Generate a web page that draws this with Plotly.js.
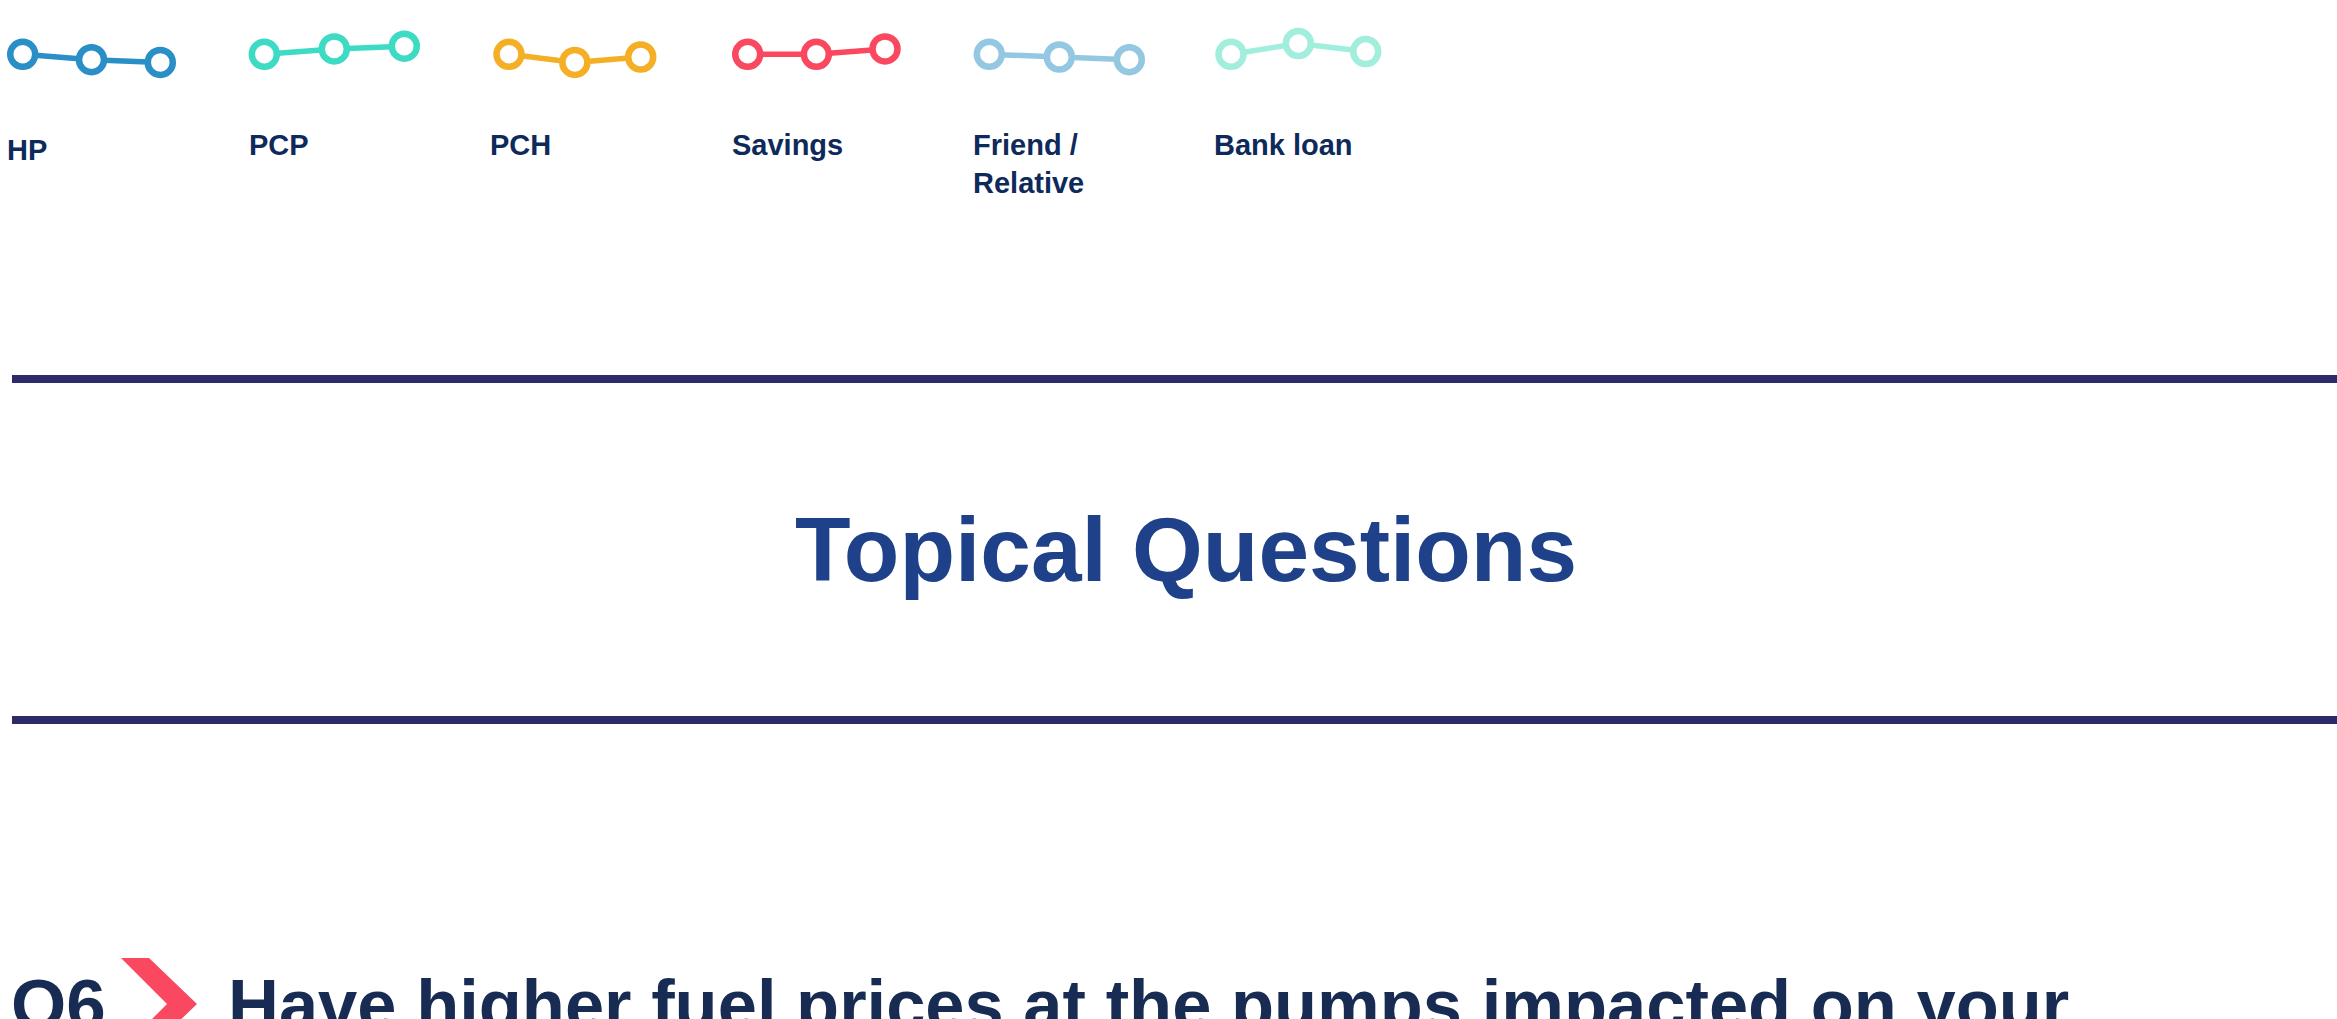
<!DOCTYPE html>
<html>
<head>
<meta charset="utf-8">
<script src="https://cdn.plot.ly/plotly-3.0.1.min.js"></script>
<style>
  html, body { margin: 0; padding: 0; background: #ffffff; }
  #chart { width: 2337px; height: 1019px; }
</style>
</head>
<body>
<div id="chart"></div>
<script>
// ---- Data ----
const periods = ['T1', 'T2', 'T3'];
const seriesNames = ['HP', 'PCP', 'PCH', 'Savings', 'Friend /<br>Relative', 'Bank loan'];
const hp = [0, -2, -3];
const pcp = [0, 2, 3];
const pch = [0, -3, -1];
const savings = [0, 0, 2];
const friendRelative = [0, -1, -2];
const bankLoan = [0, 4, 1];
const sectionTitle = 'Topical Questions';
const questionNumber = 'Q6';
const questionText = 'Have higher fuel prices at the pumps impacted on your';

// ---- Styling / layout ----
const W = 2337, H = 1019;
const px = v => v / W;
const py = v => 1 - v / H;
const FONT = '"Liberation Sans", Arial, Helvetica, sans-serif';
const colors = ['#2a8fc7', '#3ddbc3', '#f5af26', '#f9485f', '#94c8e2', '#a1eedd'];
const values = [hp, pcp, pch, savings, friendRelative, bankLoan];
// first / last marker pixel columns of each mini chart
const spans = [[22.7, 160.3], [264.3, 404.3], [509, 640.7], [747.7, 885], [989.3, 1129.3], [1231, 1365.7]];
const labelLeft = [5, 247, 488, 730, 971, 1212];
const labelMid = [150, 145, 145, 145, 164, 145];

const traces = [];
const layout = {
  width: W, height: H,
  margin: {l: 0, r: 0, t: 0, b: 0},
  paper_bgcolor: '#ffffff',
  plot_bgcolor: 'rgba(0,0,0,0)',
  showlegend: false,
  title: {
    text: sectionTitle,
    x: px(1186), xref: 'paper', xanchor: 'center',
    y: py(549), yref: 'paper', yanchor: 'middle',
    font: {family: FONT, size: 91, weight: 700, color: '#1f4189'}
  },
  annotations: [],
  shapes: []
};

values.forEach((vals, i) => {
  const n = i === 0 ? '' : String(i + 1);
  traces.push({
    type: 'scatter', mode: 'lines+markers',
    x: periods, y: vals, name: seriesNames[i].replace('<br>', ' '),
    xaxis: 'x' + n, yaxis: 'y' + n,
    cliponaxis: false,
    line: {color: colors[i], width: 5.5},
    marker: {symbol: 'circle', size: 25, color: '#ffffff', line: {color: colors[i], width: 6.5}},
    hoverinfo: 'name+y'
  });
  layout['xaxis' + n] = {
    domain: [px(spans[i][0]), px(spans[i][1])], range: [0, 2], type: 'category',
    visible: false, anchor: 'y' + n, fixedrange: true
  };
  layout['yaxis' + n] = {
    domain: [py(81.3), py(27.3)], range: [-10, 10],
    visible: false, anchor: 'x' + n, fixedrange: true
  };
  layout.annotations.push({
    text: seriesNames[i], xref: 'paper', yref: 'paper',
    x: px(labelLeft[i]), xanchor: 'left', y: py(labelMid[i]), yanchor: 'middle',
    align: 'left', showarrow: false,
    font: {family: FONT, size: 29, weight: 700, color: '#0d2a5a'}
  });
});

// divider rules
[379, 720].forEach(yy => {
  layout.shapes.push({
    type: 'line', xref: 'paper', yref: 'paper',
    x0: px(12), x1: 1, y0: py(yy), y1: py(yy),
    line: {color: '#2c2a6b', width: 8}
  });
});

// chevron
const chev = [[121, 958], [149, 958], [197, 1004], [149, 1050], [121, 1050], [167, 1004]];
layout.shapes.push({
  type: 'path', xref: 'paper', yref: 'paper',
  path: 'M' + chev.map(p => px(p[0]) + ',' + py(p[1])).join(' L') + ' Z',
  fillcolor: '#f9485f', line: {width: 0}
});

// question heading
layout.annotations.push({
  text: questionNumber, xref: 'paper', yref: 'paper',
  x: px(9), xanchor: 'left', y: py(1004), yanchor: 'middle',
  showarrow: false, font: {family: FONT, size: 71, weight: 700, color: '#182b52'}
});
layout.annotations.push({
  text: questionText, xref: 'paper', yref: 'paper',
  x: px(226), xanchor: 'left', y: py(1004), yanchor: 'middle',
  showarrow: false, font: {family: FONT, size: 70.5, weight: 700, color: '#182b52'}
});

Plotly.newPlot('chart', traces, layout, {displayModeBar: false, responsive: false});
</script>
</body>
</html>
